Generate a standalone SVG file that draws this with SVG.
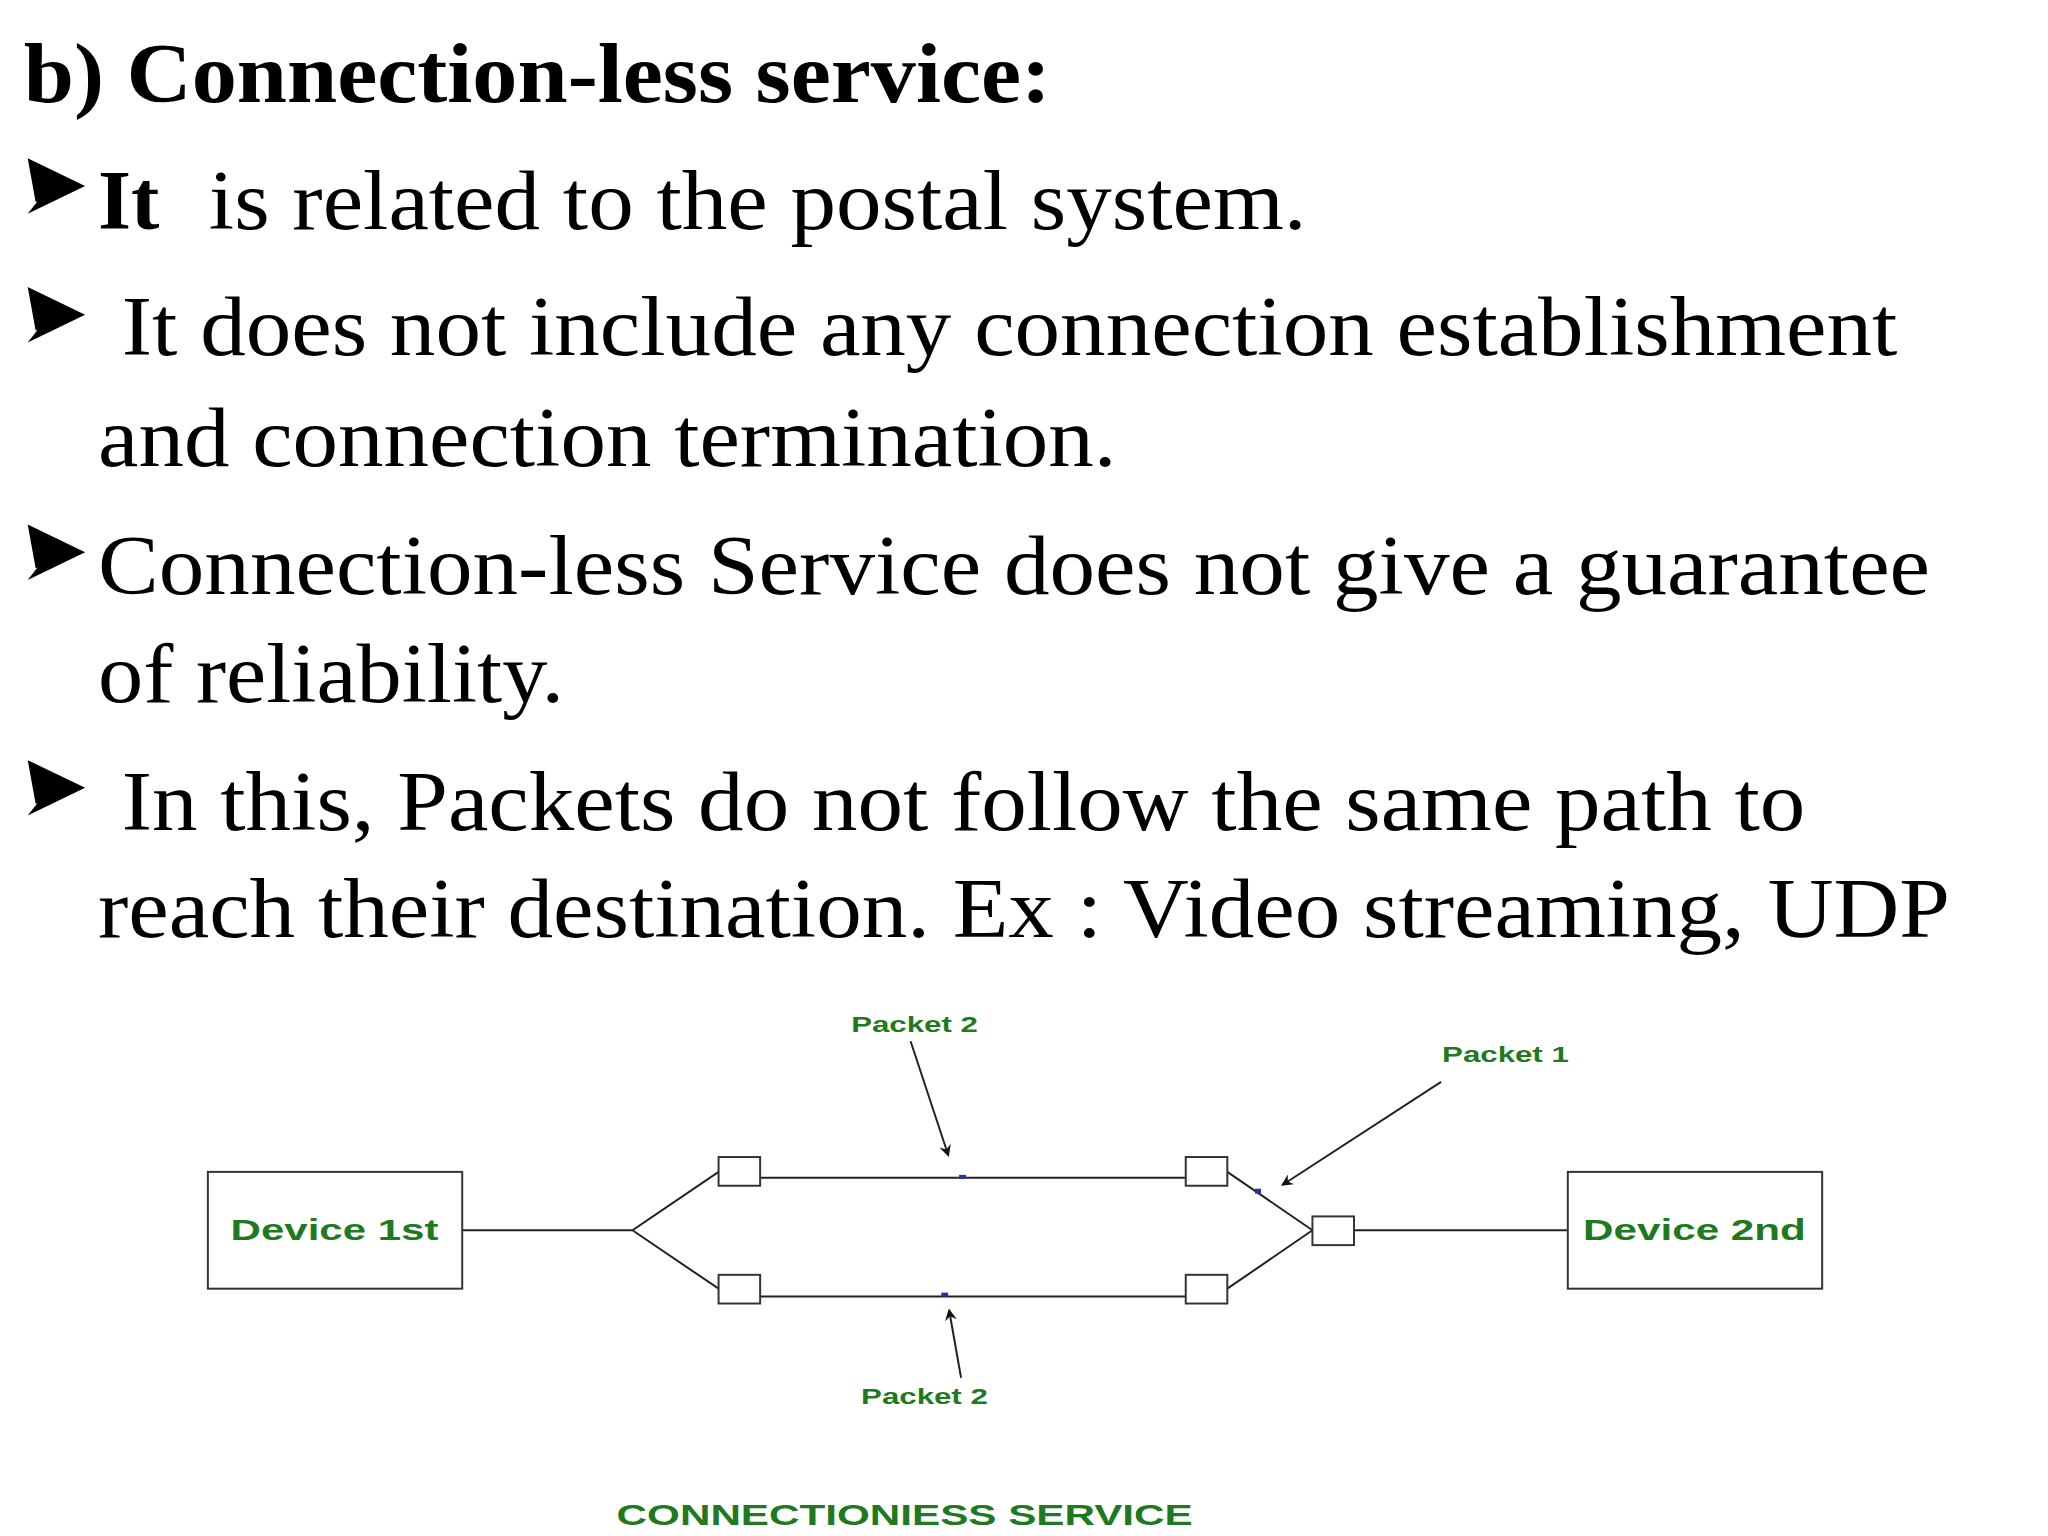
<svg xmlns="http://www.w3.org/2000/svg" width="2048" height="1536" viewBox="0 0 2048 1536">
<defs>
<style>
.t{font-family:"Liberation Serif","Times New Roman",serif;font-size:86px;fill:#000}
.b{font-weight:bold}
.g{font-family:"Liberation Sans",Arial,sans-serif;font-weight:bold;fill:#1f7a1f}
.ln{stroke:#222;stroke-width:2;fill:none}
.bx{fill:#fff;stroke:#333;stroke-width:2}
.pk{fill:#2233aa}
</style>
<marker id="ah" markerWidth="12" markerHeight="12" refX="10" refY="6" orient="auto" markerUnits="userSpaceOnUse"><path d="M0,0 L12,6 L0,12 L4,6 z" fill="#111"/></marker>
<path id="bul" d="M0,0 L58,28 L0,56 L22,28 z M0,0 L58,28 L8,44" fill="#000"/>
</defs>
<rect width="2048" height="1536" fill="#fff"/>
<g transform="scale(0.98977)">
<g id="text">
<text class="t b" x="24" y="103" font-size="80" textLength="1038" lengthAdjust="spacingAndGlyphs">b) Connection-less service:</text>
<use href="#bul" x="28" y="160"/>
<use href="#bul" x="28" y="290"/>
<use href="#bul" x="28" y="530"/>
<use href="#bul" x="28" y="768"/>
<text class="t" x="99" y="231"><tspan class="b">It</tspan></text>
<text class="t" x="211" y="231" textLength="1109" lengthAdjust="spacingAndGlyphs">is related to the postal system.</text>
<text class="t" x="123" y="359" textLength="1794" lengthAdjust="spacingAndGlyphs">It does not include any connection establishment</text>
<text class="t" x="99" y="471" textLength="1029" lengthAdjust="spacingAndGlyphs">and connection termination.</text>
<text class="t" x="99" y="600" textLength="1851" lengthAdjust="spacingAndGlyphs">Connection-less Service does not give a guarantee</text>
<text class="t" x="99" y="709" textLength="471" lengthAdjust="spacingAndGlyphs">of reliability.</text>
<text class="t" x="123" y="839" textLength="1701" lengthAdjust="spacingAndGlyphs">In this, Packets do not follow the same path to</text>
<text class="t" x="99" y="947" textLength="1871" lengthAdjust="spacingAndGlyphs">reach their destination. Ex : Video streaming, UDP</text>
</g>
<g id="connectors">
<path class="ln" d="M467,1243 L639,1243 L726,1184 M639,1243 L726,1302"/>
<path class="ln" d="M768,1190 L1198,1190 M768,1310 L1198,1310"/>
<path class="ln" d="M1240,1184 L1326,1243 M1240,1302 L1326,1243 M1368,1243 L1584,1243"/>
<line class="ln" x1="920" y1="1052" x2="958" y2="1167" marker-end="url(#ah)"/>
<line class="ln" x1="1456" y1="1093" x2="1296" y2="1197" marker-end="url(#ah)"/>
<line class="ln" x1="971" y1="1392" x2="959" y2="1324" marker-end="url(#ah)"/>
</g>
<g id="dev1"><rect class="bx" x="210" y="1184" width="257" height="118"/><text class="g" x="338" y="1253" font-size="30" text-anchor="middle" textLength="210" lengthAdjust="spacingAndGlyphs">Device 1st</text></g>
<g id="dev2"><rect class="bx" x="1584" y="1184" width="257" height="118"/><text class="g" x="1712" y="1253" font-size="30" text-anchor="middle" textLength="225" lengthAdjust="spacingAndGlyphs">Device 2nd</text></g>
<g id="r1"><rect class="bx" x="726" y="1169" width="42" height="29"/></g>
<g id="r2"><rect class="bx" x="1198" y="1169" width="42" height="29"/></g>
<g id="r3"><rect class="bx" x="726" y="1288" width="42" height="29"/></g>
<g id="r4"><rect class="bx" x="1198" y="1288" width="42" height="29"/></g>
<g id="r5"><rect class="bx" x="1326" y="1229" width="42" height="29"/></g>
<g id="packets">
<rect class="pk" x="969" y="1187" width="7" height="4"/>
<rect class="pk" x="951" y="1306" width="7" height="4"/>
<rect class="pk" x="1268" y="1201" width="6" height="5"/>
</g>
<g id="labels">
<text class="g" x="924" y="1043" font-size="23" text-anchor="middle" textLength="128" lengthAdjust="spacingAndGlyphs">Packet 2</text>
<text class="g" x="1521" y="1073" font-size="23" text-anchor="middle" textLength="128" lengthAdjust="spacingAndGlyphs">Packet 1</text>
<text class="g" x="934" y="1419" font-size="23" text-anchor="middle" textLength="128" lengthAdjust="spacingAndGlyphs">Packet 2</text>
<text class="g" x="914" y="1541" font-size="30" text-anchor="middle" textLength="582" lengthAdjust="spacingAndGlyphs">CONNECTIONIESS SERVICE</text>
</g>
</g>
</svg>
